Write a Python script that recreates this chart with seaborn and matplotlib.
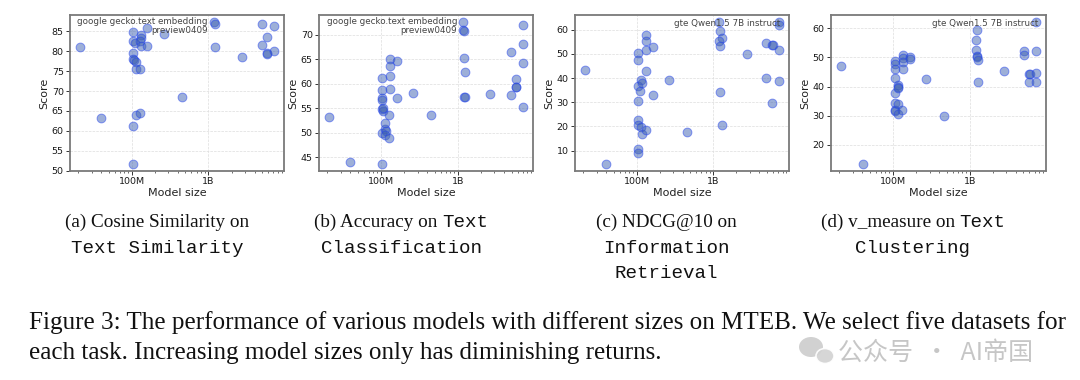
import numpy as np
import pandas as pd
import matplotlib
matplotlib.use("Agg")
import matplotlib.pyplot as plt
import seaborn as sns
from matplotlib.patches import Ellipse
from matplotlib.ticker import FixedLocator, FuncFormatter, MultipleLocator, LogLocator, NullFormatter

# ---------------- data (model size in millions, score) ----------------
sizes_a = [21, 40, 104, 104, 109, 104, 104, 106, 114, 114, 130, 134, 134, 130, 134, 160, 160, 263,
           112, 128, 104, 104, 451, 1180, 1220, 1220, 2710, 4930, 4930, 5840, 5840, 5840, 7200, 7200]
scores_a = [81.1, 63.1, 84.8, 82.5, 82.1, 79.6, 78.1, 77.7, 77.4, 75.6, 75.6, 84.1, 83.2, 82.5, 81.3,
            85.8, 81.2, 84.2, 64.0, 64.4, 61.1, 51.7, 68.5, 87.3, 86.8, 81.1, 78.5, 86.7, 81.5, 83.5,
            79.5, 79.4, 86.2, 80.0]

sizes_b = [21, 40, 104, 104, 104, 104, 104, 104, 106, 108, 104, 112, 114, 115, 112, 128, 128, 131, 131,
           131, 131, 160, 160, 263, 451, 1180, 1180, 1210, 1210, 1250, 1220, 1250, 2650, 4930, 4930,
           5780, 5780, 5780, 7100, 7100, 7100, 7100]
scores_b = [53.2, 44.0, 43.6, 61.1, 58.8, 57.1, 56.6, 54.9, 54.5, 55.0, 50.0, 50.7, 51.9, 50.4, 49.6,
            49.0, 53.65, 65.0, 63.7, 61.6, 58.9, 64.6, 57.1, 58.1, 53.65, 72.6, 70.9, 70.7, 65.2, 62.3,
            57.3, 57.3, 57.8, 66.5, 57.7, 60.9, 59.4, 59.4, 72.1, 68.1, 64.3, 55.3]

sizes_c = [21, 40, 104, 104, 104, 104, 104, 104, 104, 104, 112, 114, 115, 117, 116, 131, 132, 132, 132,
           132, 163, 163, 268, 460, 1180, 1210, 1280, 1180, 1220, 1220, 1280, 2740, 4930, 4930, 5840,
           5960, 5840, 7100, 7100, 7100, 7250]
scores_c = [43.4, 4.5, 50.3, 47.5, 36.7, 30.6, 22.6, 20.8, 10.8, 9.2, 34.7, 19.8, 39.2, 38.1, 16.8, 18.7,
            57.8, 55.3, 51.7, 42.8, 52.8, 32.9, 39.1, 17.6, 63.2, 59.7, 56.7, 55.2, 53.4, 34.4, 20.8,
            49.8, 54.5, 39.9, 53.6, 53.6, 29.9, 63.2, 62.1, 51.6, 38.9]

sizes_d = [21, 41, 106, 106, 106, 106, 108, 108, 108, 108, 115, 117, 117, 117, 115, 131, 134, 134, 134,
           134, 165, 165, 271, 469, 1230, 1210, 1210, 1260, 1260, 1300, 1300, 2760, 5020, 5020, 5960,
           6080, 5960, 7350, 7350, 7350, 7350]
scores_d = [47.2, 13.5, 48.6, 47.8, 46.1, 43.1, 37.8, 34.5, 32.1, 31.5, 40.7, 39.8, 39.6, 34.1, 30.5, 32.1,
            50.7, 49.7, 48.4, 45.9, 50.2, 49.5, 42.7, 29.9, 59.4, 55.9, 52.7, 50.5, 50.1, 49.2, 41.7,
            45.3, 52.3, 50.9, 44.4, 44.4, 41.7, 62.1, 52.1, 44.7, 41.7]

annot_labels = ["google gecko.text embedding\npreview0409", "google gecko.text embedding\npreview0409",
                "gte Qwen1.5 7B instruct", "gte Qwen1.5 7B instruct"]
annot_points = [(1180, 87.3), (1180, 72.6), (7100, 63.2), (7350, 62.1)]

captions = [
    [[("(a) Cosine Similarity on", "serif")], [("Text Similarity", "mono")]],
    [[("(b) Accuracy on", "serif"), ("Text", "mono")], [("Classification", "mono")]],
    [[("(c) NDCG@10 on", "serif")], [("Information", "mono")], [("Retrieval", "mono")]],
    [[("(d) v_measure on", "serif"), ("Text", "mono")], [("Clustering", "mono")]],
]
fig_caption = ["Figure 3: The performance of various models with different sizes on MTEB. We select five datasets for",
               "each task. Increasing model sizes only has diminishing returns."]
watermark = "公众号  ·  AI帝国"

# ---------------- style ----------------
sns.set_theme(style="whitegrid")
plt.rcParams["font.family"] = ["DejaVu Sans", "Noto Sans CJK SC"]

W, H = 1080, 380
fig = plt.figure(figsize=(W / 100, H / 100), dpi=100)

axes_px = [(70, 284), (319, 533), (575, 789), (831, 1046)]
top_px, bot_px = 15, 171
caption_centers = [157, 401, 666, 913]

panels = [(sizes_a, scores_a, 5), (sizes_b, scores_b, 5), (sizes_c, scores_c, 10), (sizes_d, scores_d, 10)]
annot_offsets = [((-4.5, 3.6), "top"), ((-4.5, 3.6), "top"), ((1.2, -1.2), "center"), ((1.2, -1.2), "center")]

def fmt(v, pos):
    if v >= 1e9:
        return f"{v/1e9:g}B"
    return f"{v/1e6:g}M"

for i, ((xs, ys, step), (l, r)) in enumerate(zip(panels, axes_px)):
    ax = fig.add_axes([l / W, 1 - bot_px / H, (r - l) / W, (bot_px - top_px) / H])
    df = pd.DataFrame({"size": np.array(xs) * 1e6, "score": ys})
    sns.scatterplot(data=df, x="size", y="score", ax=ax, s=40, color="#3d60b2", alpha=0.5,
                    edgecolor="#2040f0", linewidth=0.7, zorder=3)
    ax.set_xscale("log")
    ax.xaxis.set_major_locator(FixedLocator([1e8, 1e9]))
    ax.xaxis.set_major_formatter(FuncFormatter(fmt))
    ax.xaxis.set_minor_locator(LogLocator(base=10, subs=np.arange(2, 10)))
    ax.xaxis.set_minor_formatter(NullFormatter())
    ax.yaxis.set_major_locator(MultipleLocator(step))
    ax.set_xlabel("Model size", fontsize=8, color="#222222", labelpad=1)
    ax.set_ylabel("Score", fontsize=8, color="#222222", labelpad=2)
    ax.tick_params(axis="both", which="major", labelsize=6.8, length=3, width=0.7, color="#333333",
                   pad=1.5, labelcolor="#1a1a1a", bottom=True, left=True)
    ax.tick_params(axis="x", which="minor", length=1.6, width=0.5, color="#333333", bottom=True)
    ax.set_facecolor("white")
    ax.grid(True, which="major", linestyle="--", linewidth=0.5, color="#dddddd")
    ax.grid(False, which="minor")
    for sp in ax.spines.values():
        sp.set_visible(True)
        sp.set_color("#7a7a7a")
        sp.set_linewidth(1.3)
    (px, py) = annot_points[i]
    (off, va) = annot_offsets[i]
    ax.annotate(annot_labels[i], xy=(px * 1e6, py), xytext=off, textcoords="offset points",
                ha="right", va=va, multialignment="right", fontsize=6.3, color="#444444",
                linespacing=1.05, zorder=4)

# ---------------- captions ----------------
fam_map = {"serif": "Liberation Serif", "mono": "Liberation Mono"}
renderer = fig.canvas.get_renderer()
cap_size = 13.8
line_baselines = [227, 253, 278]

def place_line(segments, xc, yb, size):
    texts = []
    widths = []
    for s, fam in segments:
        t = fig.text(0, 1 - yb / H, s, fontsize=size, family=fam_map[fam], ha="left", va="baseline",
                     color="#111111")
        texts.append(t)
        widths.append(t.get_window_extent(renderer).width)
    gap = 0.25 * size * 100 / 72
    total = sum(widths) + gap * (len(widths) - 1)
    x = xc - total / 2
    for t, w in zip(texts, widths):
        t.set_x(x / W)
        x += w + gap

for cap, xc in zip(captions, caption_centers):
    for line, yb in zip(cap, line_baselines):
        place_line(line, xc, yb, cap_size)

# figure caption: fit first line to the reference width
cap_texts = []
for line, yb in zip(fig_caption, [329.5, 359]):
    cap_texts.append(fig.text(29 / W, 1 - yb / H, line, fontsize=18, family="Liberation Serif",
                              ha="left", va="baseline", color="#111111"))
w0 = cap_texts[0].get_window_extent(renderer).width
for t in cap_texts:
    t.set_fontsize(18 * 1037 / w0)

# watermark, kept just below the first caption line
fig.patches.append(Ellipse((811 / W, 1 - 347 / H), 24 / W, 20 / H, transform=fig.transFigure,
                           facecolor="#c6c6c6", edgecolor="none", alpha=0.8))
fig.patches.append(Ellipse((825 / W, 1 - 356 / H), 18 / W, 15 / H, transform=fig.transFigure,
                           facecolor="#d2d2d2", edgecolor="white", linewidth=1.2, alpha=0.9))
fig.text(838 / W, 1 - 353 / H, watermark, fontsize=18, family=["Noto Sans CJK SC", "DejaVu Sans"],
         ha="left", va="center", color="#b4b4b4", alpha=0.75)

fig.savefig("out.png", dpi=100, facecolor="white")
